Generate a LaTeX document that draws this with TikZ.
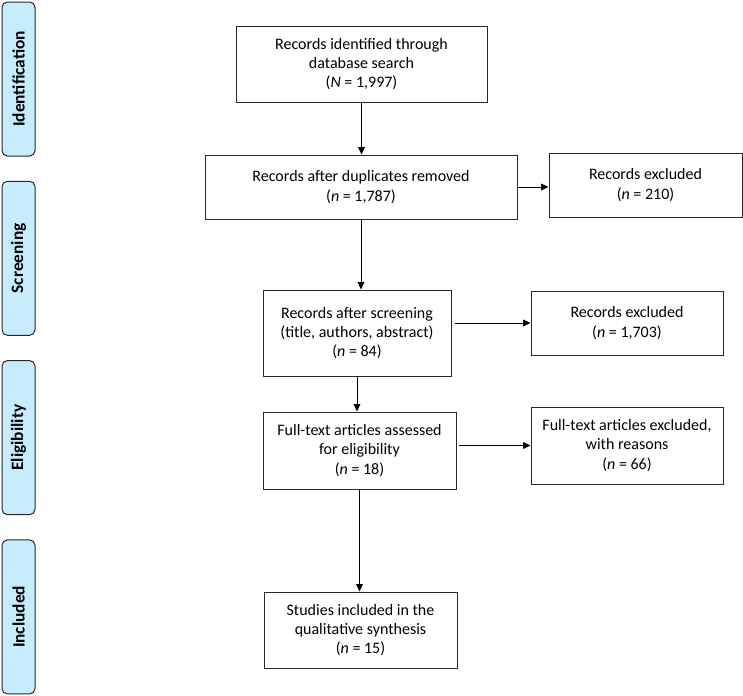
\documentclass[tikz,border=0pt]{standalone}
\usepackage{fontspec}
\setmainfont{Carlito}
\usetikzlibrary{arrows.meta,positioning}

\definecolor{phasefill}{RGB}{199,236,253}
\definecolor{edgegray}{RGB}{40,40,40}

\tikzset{
  phase/.style={draw=edgegray,fill=phasefill,line width=0.75pt,rounded corners=4pt,rotate=90,
    minimum width=115.5pt,minimum height=24.75pt,inner sep=0pt,font=\fontsize{13}{15}\selectfont\bfseries},
  box/.style={draw=edgegray,line width=0.75pt,align=center,inner sep=2pt,font=\fontsize{12}{14.4}\selectfont},
  arr/.style={-{Triangle[length=5.5pt,width=5pt]},line width=0.75pt,draw=black}
}

\begin{document}
\begin{tikzpicture}[x=0.75pt,y=-0.75pt]
\useasboundingbox (0,0) rectangle (743,696);
\foreach \lab [count=\k] in {Identification,Screening,Eligibility,Included}
  \node[phase] (P\k) at (18.5,{79+179.3*(\k-1)}) {\lab};

\node[box,minimum width=188.25pt,minimum height=57pt] (found) at (361.5,64) {Records identified through\\database search\\(\textit{N} = 1,997)};
\node[box,minimum width=234pt,minimum height=48pt] (dedup) at (361,187) {Records after duplicates removed\\(\textit{n} = 1,787)};
\node[box,minimum width=144.75pt,minimum height=48pt] (excl1) at (645.5,185) {Records excluded\\(\textit{n} = 210)};
\node[box,minimum width=141pt,minimum height=64.5pt] (screened) at (357,333) {Records after screening\\(title, authors, abstract)\\(\textit{n} = 84)};
\node[box,minimum width=144pt,minimum height=48pt] (excl2) at (627,323) {Records excluded\\(\textit{n} = 1,703)};
\node[box,minimum width=144.75pt,minimum height=57.75pt] (fulltext) at (359.5,450.5) {Full-text articles assessed\\for eligibility\\(\textit{n} = 18)};
\node[box,minimum width=144pt,minimum height=57.75pt] (excl3) at (627,445.5) {Full-text articles excluded,\\with reasons\\(\textit{n} = 66)};
\node[box,minimum width=144.75pt,minimum height=57pt] (incl) at (360.5,630) {Studies included in the\\qualitative synthesis\\(\textit{n} = 15)};

\draw[arr] (found.south) -- (found.south |- dedup.north);
\draw[arr] (dedup.east) -- (dedup.east -| excl1.west);
\draw[arr] (dedup.south) -- (dedup.south |- screened.north);
\draw[arr] ([xshift=2.25pt]screened.east |- excl2.west) -- (excl2.west);
\draw[arr] (screened.south) -- (screened.south |- fulltext.north);
\draw[arr] ([xshift=1.5pt]fulltext.east |- excl3.west) -- (excl3.west);
\draw[arr] (fulltext.south) -- (fulltext.south |- incl.north);
\end{tikzpicture}
\end{document}
